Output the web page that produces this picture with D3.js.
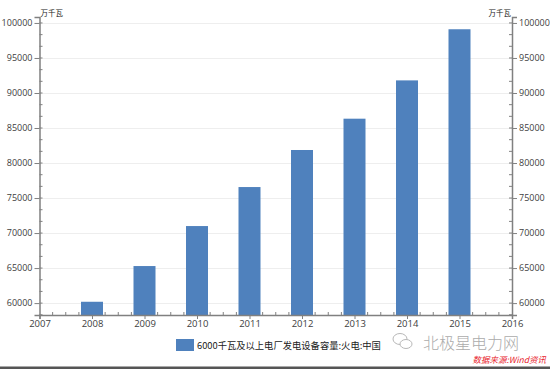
<!DOCTYPE html>
<html><head><meta charset="utf-8">
<script src="https://cdn.jsdelivr.net/npm/d3@7/dist/d3.min.js"></script>
<style>
html,body{margin:0;padding:0;background:#fff;}
svg{display:block;}
text{font-family:"Open Sans","Noto Sans",sans-serif;}
</style></head>
<body>
<svg id="c" width="550" height="369"></svg>
<script>
const years = [2008, 2009, 2010, 2011, 2012, 2013, 2014, 2015];
const capacity = [60190, 65290, 71000, 76570, 81860, 86330, 91800, 99100];
const yTicks = [60000, 65000, 70000, 75000, 80000, 85000, 90000, 95000, 100000];
const xTicks = [2007, 2008, 2009, 2010, 2011, 2012, 2013, 2014, 2015, 2016];
const unitLabel = "万千瓦";
const seriesName = "6000千瓦及以上电厂发电设备容量:火电:中国";
const watermark = "北极星电力网";
const source = "数据来源:Wind资讯";

const svg = d3.select("#c");
const L = 39.5, R = 512, T = 17, B = 315;
const x = d3.scaleLinear().domain([2007, 2016]).range([L, R]);
const y = d3.scaleLinear().domain([58300, 100850]).range([B, T]);
const barColor = "#4f81bd";
const axisColor = "#808080";
const textColor = "#404040";

// gridlines
svg.append("g").selectAll("line").data(yTicks).join("line")
  .attr("x1", L).attr("x2", R)
  .attr("y1", d => Math.round(y(d)) + 0.5).attr("y2", d => Math.round(y(d)) + 0.5)
  .attr("stroke", "#eeeeee").attr("stroke-width", 1);

// bars
const bw = 22;
svg.append("g").selectAll("rect").data(years).join("rect")
  .attr("x", (d) => x(d) - bw / 2)
  .attr("y", (d, i) => y(capacity[i]))
  .attr("width", bw)
  .attr("height", (d, i) => B - y(capacity[i]))
  .attr("fill", barColor);

// minor y ticks
const minorY = d3.range(0, 26).map(i => 58333.33 + i * 5000 / 3).filter(v => v <= 100850);
// left axis
const gl = svg.append("g").attr("transform", `translate(${L},0)`)
  .call(d3.axisLeft(y).tickValues(yTicks).tickFormat(d3.format("d")).tickSize(5).tickPadding(2));
gl.append("g").selectAll("line").data(minorY).join("line")
  .attr("x1", 0).attr("x2", 3)
  .attr("y1", d => y(d)).attr("y2", d => y(d)).attr("stroke", axisColor);
// right axis
const gr = svg.append("g").attr("transform", `translate(${R},0)`)
  .call(d3.axisRight(y).tickValues(yTicks).tickFormat(d3.format("d")).tickSize(5).tickPadding(2));
gr.append("g").selectAll("line").data(minorY).join("line")
  .attr("x1", 0).attr("x2", -3)
  .attr("y1", d => y(d)).attr("y2", d => y(d)).attr("stroke", axisColor);
// bottom axis
const gb = svg.append("g").attr("transform", `translate(0,${B})`)
  .call(d3.axisBottom(x).tickValues(xTicks).tickFormat(d3.format("d")).tickSize(4).tickPadding(1));
const minorX = d3.range(2007, 2016.01, 0.25).filter(v => Math.abs(v - Math.round(v)) > 0.01);
gb.append("g").selectAll("line").data(minorX).join("line")
  .attr("x1", d => x(d)).attr("x2", d => x(d))
  .attr("y1", 0).attr("y2", -3).attr("stroke", axisColor);

[gl, gr, gb].forEach(g => {
  g.select(".domain").attr("stroke", axisColor).attr("stroke-width", 1.5);
  g.selectAll(".tick line").attr("stroke", axisColor);
  g.selectAll(".tick text").attr("fill", textColor).style("font-size", "9px")
    .style("font-family", "'Open Sans','Noto Sans',sans-serif");
});
gb.selectAll(".tick text").style("font-size", "9.5px");

// unit labels
svg.append("text").attr("x", L + 1).attr("y", 16).text(unitLabel)
  .style("font-size", "7.5px").attr("fill", "#222")
  .style("font-family", "'Noto Sans CJK SC',sans-serif");
svg.append("text").attr("x", R - 1).attr("y", 16).attr("text-anchor", "end").text(unitLabel)
  .style("font-size", "7.5px").attr("fill", "#222")
  .style("font-family", "'Noto Sans CJK SC',sans-serif");

// legend
svg.append("rect").attr("x", 176).attr("y", 339).attr("width", 18).attr("height", 12).attr("fill", barColor);
svg.append("text").attr("x", 197).attr("y", 348.5).text(seriesName)
  .style("font-size", "9.3px").attr("fill", "#222")
  .style("font-family", "'Noto Sans CJK SC',sans-serif");

// watermark icon (simple speech bubbles)
const wm = svg.append("g").attr("fill", "none").attr("stroke", "#b8b8b8").attr("stroke-width", 1);
wm.append("ellipse").attr("cx", 400).attr("cy", 339).attr("rx", 7).attr("ry", 5.5);
wm.append("ellipse").attr("cx", 406).attr("cy", 344).attr("rx", 6).attr("ry", 4.5).attr("fill", "#fff");
svg.append("text").attr("x", 423).attr("y", 349).text(watermark)
  .style("font-size", "16px").attr("fill", "#ababab").style("font-weight", "300")
  .style("font-family", "'Noto Sans CJK SC',sans-serif");

// source
svg.append("text").attr("x", 546).attr("y", 362.5).attr("text-anchor", "end").text(source)
  .style("font-size", "8.5px").style("font-style", "italic").attr("fill", "#e8202a")
  .style("font-family", "'Noto Sans CJK SC',sans-serif");

// bottom rule
svg.append("rect").attr("x", 0).attr("y", 366.5).attr("width", 550).attr("height", 2.5).attr("fill", "#555");
</script>
</body></html>
